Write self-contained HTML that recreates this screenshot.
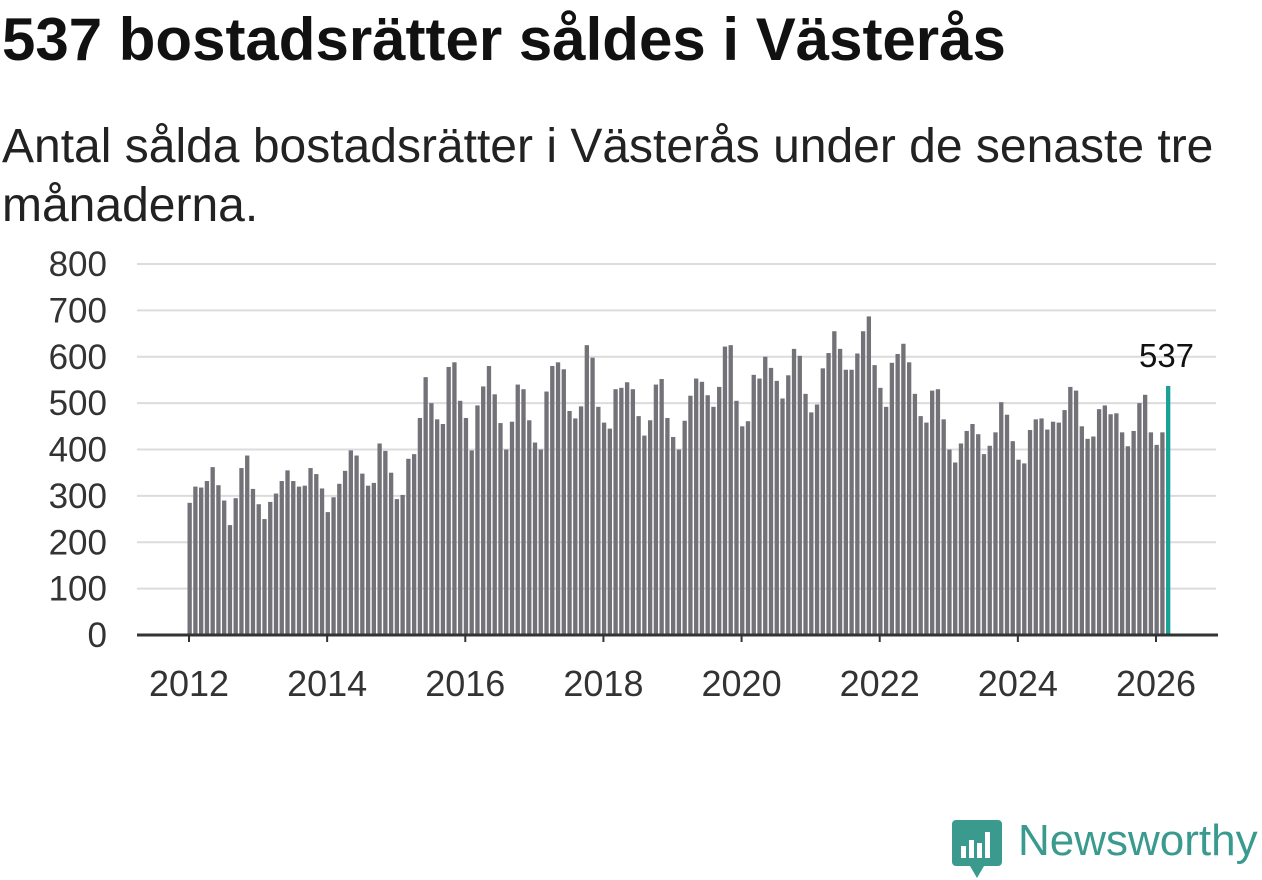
<!DOCTYPE html>
<html><head><meta charset="utf-8"><style>
body{margin:0;background:#fff;width:1262px;height:879px;overflow:hidden;font-family:"Liberation Sans",sans-serif}
h1{position:absolute;left:2px;top:5px;margin:0;font-size:60px;font-weight:bold;color:#111;white-space:nowrap}
.sub{position:absolute;left:2px;top:117px;margin:0;font-size:48px;line-height:59px;color:#222;width:1258px}
</style></head><body>
<h1>537 bostadsrätter såldes i Västerås</h1>
<p class="sub">Antal sålda bostadsrätter i Västerås under de senaste tre månaderna.</p>
<svg id="chart" width="1262" height="879" style="position:absolute;left:0;top:0" xmlns="http://www.w3.org/2000/svg"></svg>
<div style="position:absolute;left:952px;top:818px;width:310px;height:62px">
<svg width="50" height="60" style="position:absolute;left:0;top:2px">
<path d="M4 0h42a4 4 0 0 1 4 4v38a4 4 0 0 1-4 4H32l-7 12-7-12H4a4 4 0 0 1-4-4V4a4 4 0 0 1 4-4z" fill="#3a9a8e"/>
<rect x="9" y="26" width="5" height="12" fill="#fff"/><rect x="17" y="20" width="5" height="18" fill="#fff"/><rect x="25" y="23" width="5" height="15" fill="#fff"/><rect x="33" y="12" width="5" height="26" fill="#fff"/>
</svg>
<span style="position:absolute;left:66px;top:-2px;font-size:44px;color:#3a9a8e;font-family:'Liberation Sans',sans-serif">Newsworthy</span>
</div>
<script>
const yTicks=[0,100,200,300,400,500,600,700,800];
const xTickYears=[2012,2014,2016,2018,2020,2022,2024,2026];
const startYear=2012;
const values=[
285,320,318,332,362,323,290,237,295,360,387,315,
282,250,287,305,332,355,332,320,322,360,347,316,
265,297,326,354,398,387,348,322,328,413,397,350,
293,302,380,390,468,556,500,465,455,578,588,505,
468,398,495,536,580,519,457,400,460,540,530,463,
415,400,525,580,588,573,483,467,493,625,598,492,
458,445,530,533,545,530,472,430,463,540,552,468,
427,400,462,516,553,546,517,492,535,622,625,505,
450,461,561,553,600,576,548,510,560,617,602,520,
480,497,575,608,655,617,572,572,607,655,687,582,
533,492,587,606,628,588,520,472,458,527,530,465,
400,372,413,440,455,433,390,408,437,502,475,418,
378,370,442,465,467,443,460,458,485,535,527,450,
423,428,487,495,476,478,437,407,440,500,518,437,
410,437,537];
const NS="http://www.w3.org/2000/svg";
const svg=document.getElementById('chart');
const y=v=>635-v*(635-264)/800;
const x=m=>189+m*(1156-189)/168;
function el(t,a){const e=document.createElementNS(NS,t);for(const k in a)e.setAttribute(k,a[k]);svg.appendChild(e);return e;}
yTicks.forEach(t=>{
 if(t>0){const g=el('line',{x1:137,x2:1216,y1:y(t),y2:y(t),stroke:'#dcdcdc','stroke-width':2});
 
 }
 const l=el('text',{x:107,y:y(t)+12,'text-anchor':'end','font-size':35,fill:'#333','font-family':'"Liberation Sans",sans-serif'});
 l.textContent=t;
 
 
});
const bw=(1156-189)/168*0.75;
values.forEach((v,i)=>{
 const last=i===values.length-1;
 const r=el('rect',{x:x(i)-1.5,y:y(v),width:bw,height:635-y(v),fill:last?'#1aa197':'#737278'});
 
 
 if(last){const t=el('text',{x:x(i)-1,y:y(v)-19,'text-anchor':'middle','font-size':33,fill:'#111','font-family':'"Liberation Sans",sans-serif'});
 t.textContent=v;
 
 }
});
const ax=el('line',{x1:137,x2:1218,y1:635,y2:635,stroke:'#333','stroke-width':3});


xTickYears.forEach(yr=>{
 const px=x((yr-startYear)*12);
 const tk=el('line',{x1:px,x2:px,y1:635,y2:642,stroke:'#333','stroke-width':2});
 
 
 const t=el('text',{x:px,y:696,'text-anchor':'middle','font-size':36,fill:'#333','font-family':'"Liberation Sans",sans-serif'});
 t.textContent=yr;
 
 
});
</script>
</body></html>
